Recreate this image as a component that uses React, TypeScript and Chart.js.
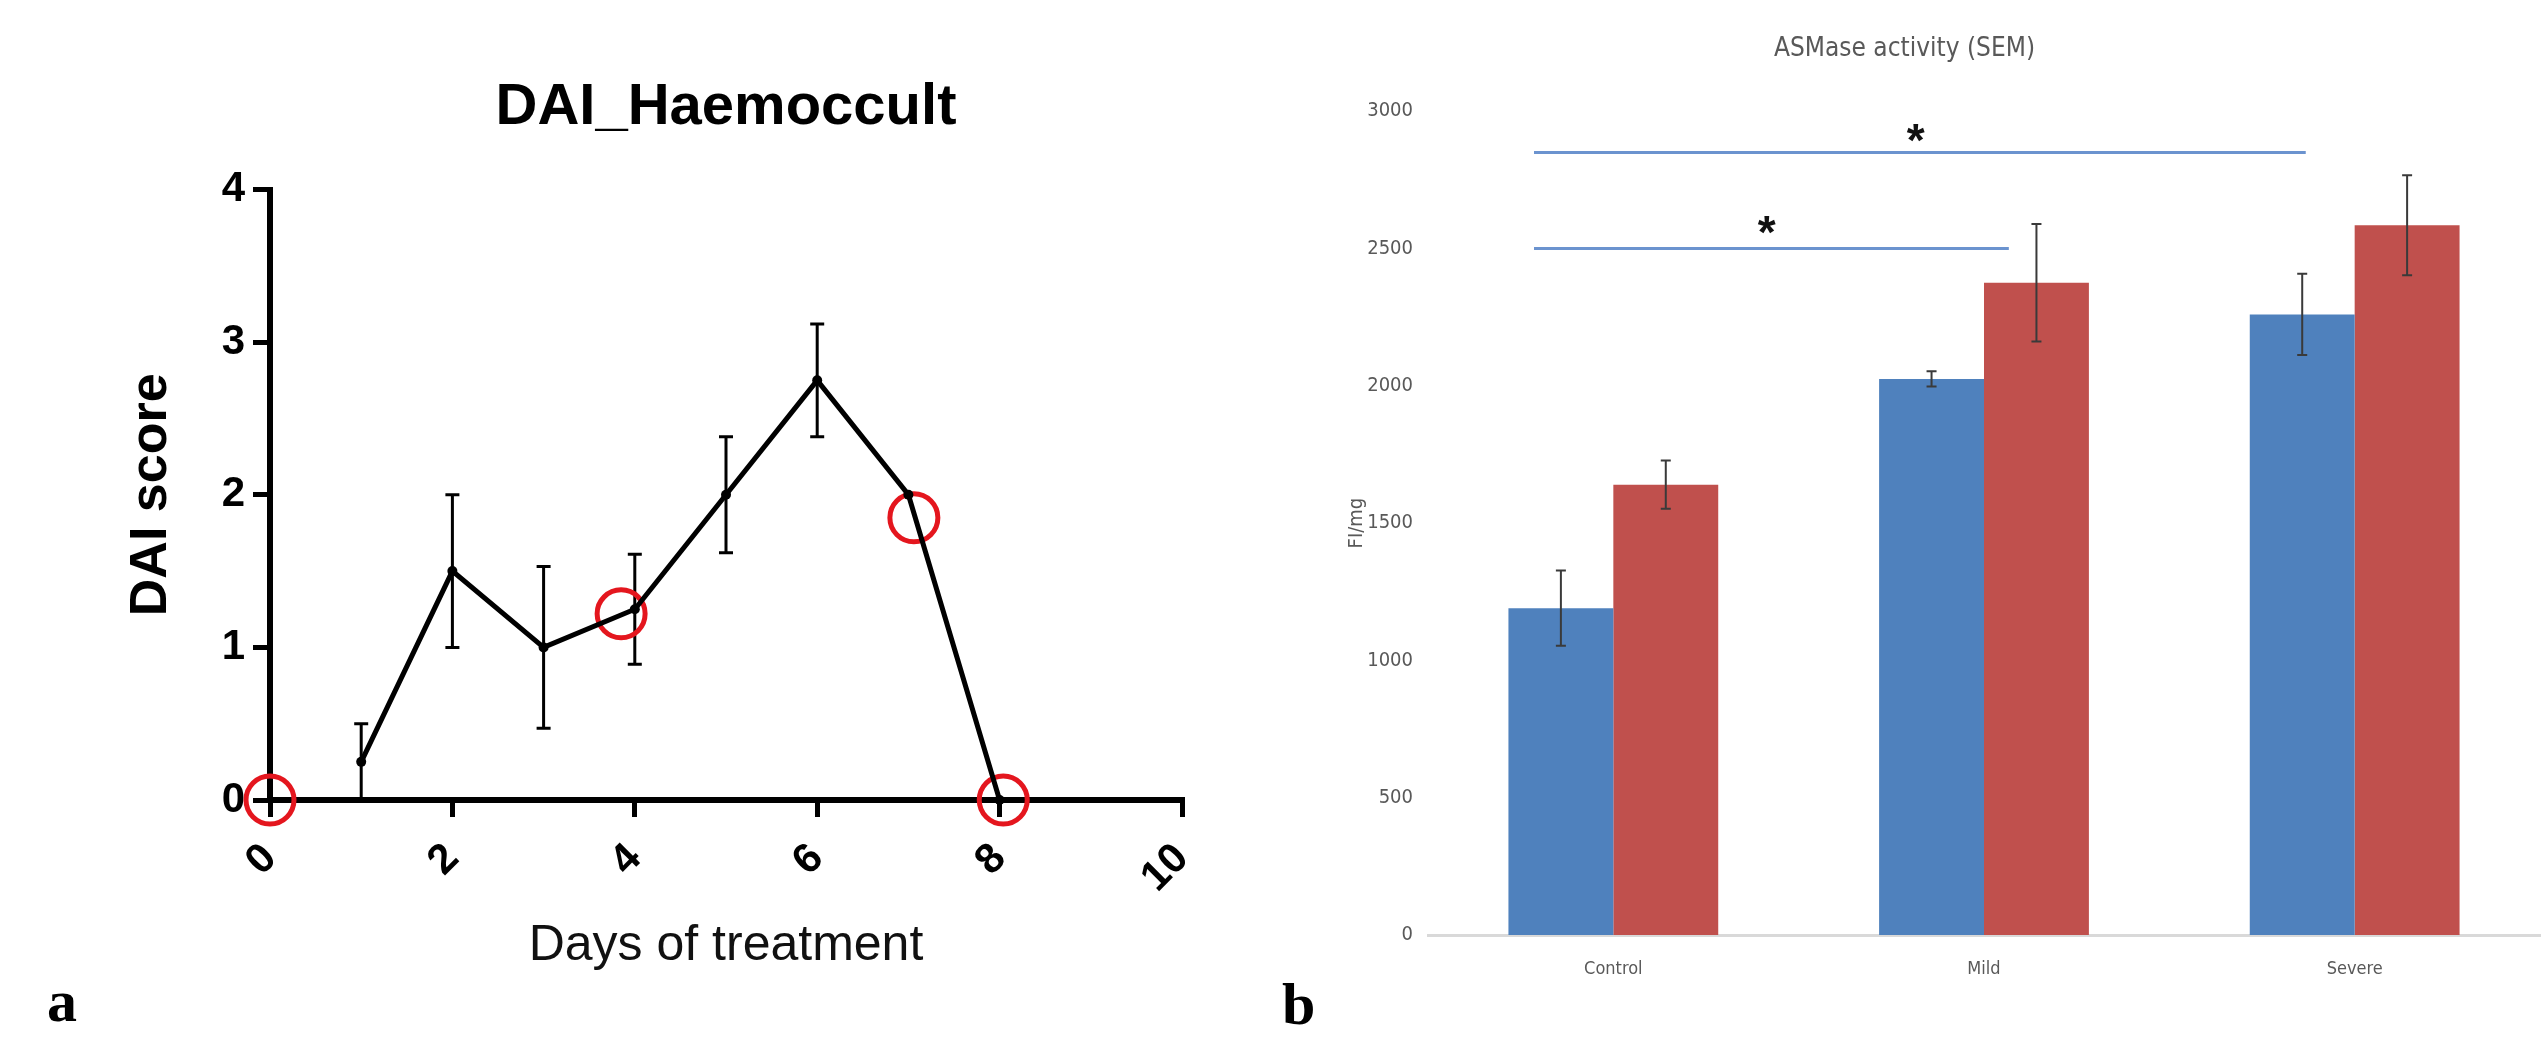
import React, { useEffect, useRef } from 'react';
import { Chart, registerables } from 'chart.js';

Chart.register(...registerables);

// ---------- Panel a: DAI_Haemoccult ----------
const days = [1, 2, 3, 4, 5, 6, 7, 8];
const daiScore = [0.25, 1.5, 1.0, 1.25, 2.0, 2.75, 2.0, 0];
const daiSem = [0.25, 0.5, 0.53, 0.36, 0.38, 0.37, 0, 0];
const circledDays = [0, 3.85, 7.06, 8.04];
const circledScores = [0, 1.22, 1.85, 0];
const dayTicks = [0, 2, 4, 6, 8, 10];
const scoreTicks = [0, 1, 2, 3, 4];

// ---------- Panel b: ASMase activity ----------
const groups = ['Control', 'Mild', 'Severe'];
const blueValues = [1190, 2025, 2260];
const blueSem = [137, 28, 148];
const redValues = [1640, 2375, 2585];
const redSem = [88, 214, 182];
const activityTicks = [0, 500, 1000, 1500, 2000, 2500, 3000];
const sigFrom = [-0.214, -0.214];
const sigTo = [1.067, 1.868];
const sigLevel = [2500, 2850];
const starPos = [0.414, 0.816];
const starLevel = [2585, 2920];

const SANS = "'Liberation Sans', Arial, sans-serif";
const NARROW = "'Liberation Sans Narrow', 'Arial Narrow', 'DejaVu Sans Condensed', Roboto, sans-serif";
const SERIF = "'Liberation Serif', 'Times New Roman', serif";

const errorBarsA = {
  id: 'errorBarsA',
  beforeDatasetsDraw(chart: any) {
    const { ctx, scales } = chart;
    const x = scales.x, y = scales.y;
    ctx.save();
    ctx.strokeStyle = '#000';
    ctx.lineWidth = 3;
    days.forEach((d, i) => {
      const s = daiSem[i];
      if (!s) return;
      const px = x.getPixelForValue(d);
      const top = y.getPixelForValue(daiScore[i] + s);
      const bot = y.getPixelForValue(Math.max(0, daiScore[i] - s));
      ctx.beginPath();
      ctx.moveTo(px, top); ctx.lineTo(px, bot);
      ctx.moveTo(px - 7, top); ctx.lineTo(px + 7, top);
      ctx.moveTo(px - 7, bot); ctx.lineTo(px + 7, bot);
      ctx.stroke();
    });
    ctx.restore();
  },
  afterDraw(chart: any) {
    const { ctx } = chart;
    ctx.save();
    ctx.font = `bold 60px ${SERIF}`;
    ctx.fillStyle = '#000';
    ctx.textAlign = 'center';
    ctx.textBaseline = 'alphabetic';
    ctx.fillText('a', 62, 1021);
    ctx.restore();
  },
};

const errorBarsB = {
  id: 'errorBarsB',
  afterDatasetsDraw(chart: any) {
    const { ctx, scales } = chart;
    const y = scales.y, x = scales.x;
    const sems = [blueSem, redSem];
    const vals = [blueValues, redValues];
    ctx.save();
    ctx.strokeStyle = '#3a3a3a';
    ctx.lineWidth = 2;
    [0, 1].forEach((d) => {
      const meta = chart.getDatasetMeta(d);
      meta.data.forEach((bar: any, i: number) => {
        const px = bar.x;
        const top = y.getPixelForValue(vals[d][i] + sems[d][i]);
        const bot = y.getPixelForValue(vals[d][i] - sems[d][i]);
        ctx.beginPath();
        ctx.moveTo(px, top); ctx.lineTo(px, bot);
        ctx.moveTo(px - 5, top); ctx.lineTo(px + 5, top);
        ctx.moveTo(px - 5, bot); ctx.lineTo(px + 5, bot);
        ctx.stroke();
      });
    });
    // significance lines
    ctx.strokeStyle = '#6b93cf';
    ctx.lineWidth = 3;
    sigLevel.forEach((lv, k) => {
      const py = y.getPixelForValue(lv);
      ctx.beginPath();
      ctx.moveTo(x.getPixelForValue(sigFrom[k]), py);
      ctx.lineTo(x.getPixelForValue(sigTo[k]), py);
      ctx.stroke();
    });
    ctx.fillStyle = '#111';
    ctx.font = `bold 46px ${SANS}`;
    ctx.textAlign = 'center';
    ctx.textBaseline = 'alphabetic';
    starPos.forEach((p, k) => {
      const cx = x.getPixelForValue(p);
      const cy = y.getPixelForValue(starLevel[k]);
      const m = ctx.measureText('*');
      const base = cy + (m.actualBoundingBoxAscent - m.actualBoundingBoxDescent) / 2;
      ctx.fillText('*', cx, base);
    });
    ctx.restore();
  },
  afterDraw(chart: any) {
    const { ctx } = chart;
    ctx.save();
    ctx.font = `bold 60px ${SERIF}`;
    ctx.fillStyle = '#000';
    ctx.textAlign = 'left';
    ctx.textBaseline = 'alphabetic';
    ctx.fillText('b', 13, 1024);
    ctx.restore();
  },
};

export default function App() {
  const refA = useRef<HTMLCanvasElement>(null);
  const refB = useRef<HTMLCanvasElement>(null);

  useEffect(() => {
    const axisGrid = {
      display: true,
      drawOnChartArea: false,
      drawTicks: true,
      tickLength: 17,
      tickWidth: 5,
      tickColor: '#000',
      color: '#000',
      lineWidth: 5,
    };
    const chartA = new Chart(refA.current!, {
      type: 'scatter',
      data: {
        datasets: [
          {
            data: days.map((d, i) => ({ x: d, y: daiScore[i] })),
            showLine: true,
            borderColor: '#000',
            borderWidth: 5,
            backgroundColor: '#000',
            pointRadius: 5,
            pointBorderWidth: 0,
            pointBackgroundColor: '#000',
            tension: 0,
            clip: false as any,
          },
          {
            data: circledDays.map((d, i) => ({ x: d, y: circledScores[i] })),
            showLine: false,
            pointRadius: 24,
            pointBorderWidth: 5,
            pointBorderColor: '#e4161e',
            pointBackgroundColor: 'rgba(0,0,0,0)',
            clip: false as any,
          },
        ],
      },
      options: {
        animation: false,
        responsive: false,
        devicePixelRatio: 1,
        layout: { padding: { left: 0, right: 88, top: 0, bottom: 0 } },
        plugins: {
          legend: { display: false },
          tooltip: { enabled: false },
          title: {
            display: true,
            text: 'DAI_Haemoccult',
            fullSize: false,
            color: '#000',
            font: { size: 58, weight: 'bold', family: SANS },
            padding: { top: 73, bottom: 47 },
          },
        },
        scales: {
          x: {
            type: 'linear',
            position: 'bottom',
            min: 0,
            max: 10,
            afterFit: (s: any) => { s.height = 254; },
            afterBuildTicks: (s: any) => { s.ticks = dayTicks.map((v) => ({ value: v })); },
            ticks: {
              minRotation: 45,
              maxRotation: 45,
              autoSkip: false,
              color: '#000',
              padding: 17,
              font: { size: 42, weight: 'bold', family: SANS },
            },
            grid: axisGrid as any,
            border: { display: true, color: '#000', width: 6 },
            title: {
              display: true,
              text: 'Days of treatment',
              color: '#111',
              font: { size: 50, family: SANS },
              padding: { top: 0, bottom: 78 },
            },
          },
          y: {
            type: 'linear',
            min: 0,
            max: 4,
            afterFit: (s: any) => { s.width = 270; },
            afterBuildTicks: (s: any) => { s.ticks = scoreTicks.map((v) => ({ value: v })); },
            ticks: {
              color: '#000',
              padding: 8,
              font: { size: 42, weight: 'bold', family: SANS },
            },
            grid: axisGrid as any,
            border: { display: true, color: '#000', width: 6 },
            title: {
              display: true,
              text: 'DAI score',
              color: '#000',
              font: { size: 52, weight: 'bold', family: SANS },
              padding: { top: 120, bottom: 0 },
            },
          },
        },
      },
      plugins: [errorBarsA],
    } as any);

    const chartB = new Chart(refB.current!, {
      type: 'bar',
      data: {
        labels: groups,
        datasets: [
          {
            data: blueValues,
            backgroundColor: '#4f81bd',
            categoryPercentage: 0.566,
            barPercentage: 1.0,
          },
          {
            data: redValues,
            backgroundColor: '#c0504d',
            categoryPercentage: 0.566,
            barPercentage: 1.0,
          },
        ],
      },
      options: {
        animation: false,
        responsive: false,
        devicePixelRatio: 1,
        layout: { padding: { left: 0, right: 6, top: 0, bottom: 0 } },
        plugins: {
          legend: { display: false },
          tooltip: { enabled: false },
          title: {
            display: true,
            text: 'ASMase activity (SEM)',
            fullSize: true,
            color: '#595959',
            font: { size: 26, weight: 'normal', family: NARROW },
            padding: { top: 34, bottom: 46 },
          },
        },
        scales: {
          x: {
            type: 'category',
            afterFit: (s: any) => { s.height = 119; },
            grid: { display: false, drawTicks: false },
            border: { display: true, color: '#d9d9d9', width: 3 },
            ticks: {
              color: '#595959',
              padding: 24,
              font: { size: 18, family: NARROW },
            },
          },
          y: {
            type: 'linear',
            min: 0,
            max: 3000,
            afterFit: (s: any) => { s.width = 159; },
            afterBuildTicks: (s: any) => { s.ticks = activityTicks.map((v) => ({ value: v })); },
            grid: { display: false, drawTicks: false },
            border: { display: false },
            ticks: {
              color: '#595959',
              padding: 15,
              font: { size: 20, family: NARROW },
              callback: (v: any) => String(v),
            },
            title: {
              display: true,
              text: 'FI/mg',
              color: '#595959',
              font: { size: 20, family: NARROW },
              padding: { top: 76, bottom: 0 },
            },
          },
        },
      },
      plugins: [errorBarsB],
    } as any);

    return () => {
      chartA.destroy();
      chartB.destroy();
    };
  }, []);

  return (
    <div
      style={{
        position: 'fixed',
        left: 0,
        top: 0,
        width: 2546,
        height: 1054,
        background: '#fff',
        overflow: 'hidden',
      }}
    >
      <canvas
        ref={refA}
        width={1270}
        height={1054}
        style={{ position: 'absolute', left: 0, top: 0, width: 1270, height: 1054 }}
      />
      <canvas
        ref={refB}
        width={1277}
        height={1054}
        style={{ position: 'absolute', left: 1269, top: 0, width: 1277, height: 1054 }}
      />
    </div>
  );
}
